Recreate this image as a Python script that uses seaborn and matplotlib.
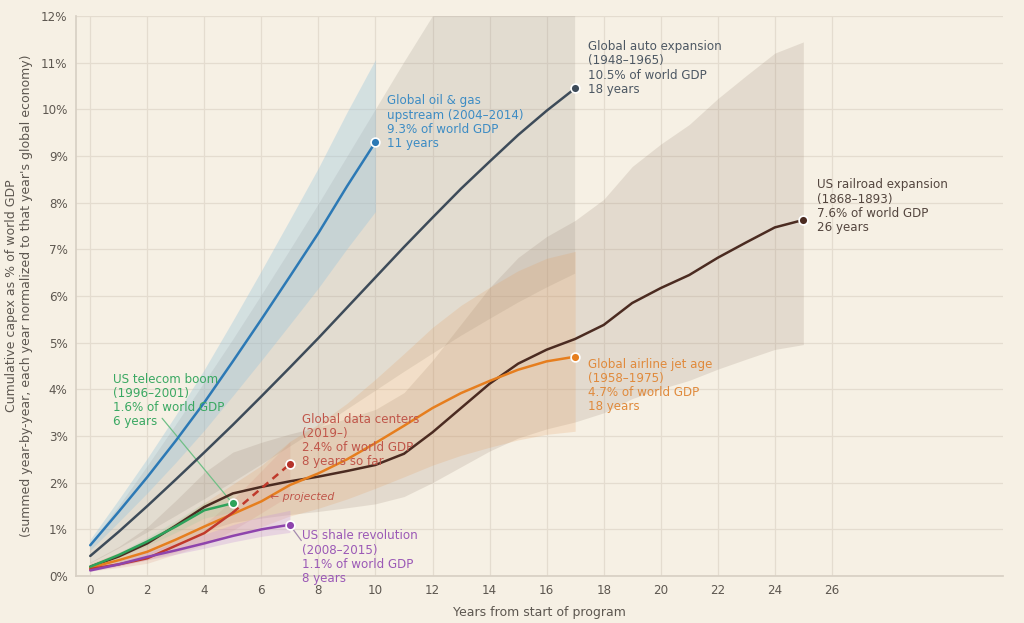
import numpy as np
import pandas as pd
import seaborn as sns
import matplotlib.pyplot as plt
from matplotlib.ticker import FuncFormatter

# cumulative capex, % of world GDP, by year of program
oil_gas = [0.66, 1.38, 2.12, 2.9, 3.72, 4.6, 5.5, 6.42, 7.35, 8.35, 9.3]
auto = [0.43, 0.95, 1.5, 2.07, 2.65, 3.24, 3.85, 4.47, 5.1, 5.75, 6.4, 7.05,
        7.68, 8.3, 8.88, 9.45, 9.97, 10.45]
railroad = [0.2, 0.42, 0.7, 1.08, 1.48, 1.77, 1.91, 2.03, 2.13, 2.25, 2.38,
            2.62, 3.08, 3.6, 4.12, 4.55, 4.85, 5.08, 5.38, 5.85, 6.17, 6.45,
            6.82, 7.15, 7.47, 7.63]
airline = [0.18, 0.34, 0.52, 0.78, 1.06, 1.33, 1.6, 1.95, 2.2, 2.5, 2.85,
           3.22, 3.6, 3.92, 4.18, 4.42, 4.6, 4.7]
data_centers = [0.15, 0.25, 0.38, 0.65, 0.92, 1.36]
data_centers_proj = [1.36, 1.88, 2.4]
telecom = [0.2, 0.45, 0.74, 1.06, 1.41, 1.56]
shale = [0.12, 0.25, 0.41, 0.55, 0.7, 0.86, 1.0, 1.1]

# uncertainty band, low / high multiple of the central line
band_oil = (0.84, 1.19)
band_auto = (0.62, 1.56)
band_rail = (0.65, 1.5)
band_airline = (0.66, 1.48)
band_dc = (0.72, 1.2)
band_telecom = (0.88, 1.12)
band_shale = (0.85, 1.28)

labels = {
    "oil": "Global oil & gas\nupstream (2004\u20132014)\n9.3% of world GDP\n11 years",
    "auto": "Global auto expansion\n(1948\u20131965)\n10.5% of world GDP\n18 years",
    "rail": "US railroad expansion\n(1868\u20131893)\n7.6% of world GDP\n26 years",
    "airline": "Global airline jet age\n(1958\u20131975)\n4.7% of world GDP\n18 years",
    "dc": "Global data centers\n(2019\u2013)\n2.4% of world GDP\n8 years so far",
    "telecom": "US telecom boom\n(1996\u20132001)\n1.6% of world GDP\n6 years",
    "shale": "US shale revolution\n(2008\u20132015)\n1.1% of world GDP\n8 years",
}

fond = "#f6f0e4"
sns.set_theme(style="whitegrid", rc={
    "axes.facecolor": fond, "figure.facecolor": fond,
    "grid.color": "#e4dccf", "grid.linewidth": 0.9,
    "axes.edgecolor": "#d8d0c4",
})
plt.rcParams['font.family'] = ['DejaVu Sans']

fig = plt.figure(figsize=(10.24, 6.23), dpi=100)
ax = fig.add_axes([0.0742, 0.0754, 0.9053, 0.8989])


def tracer(valeurs, bande, c_ligne, c_bande, a_bande, x0=0, ls="-", z=3):
    xs = np.arange(x0, x0 + len(valeurs))
    v = np.array(valeurs)
    if bande is not None:
        ax.fill_between(xs, v * bande[0], v * bande[1], color=c_bande,
                        alpha=a_bande, linewidth=0, zorder=1)
    sns.lineplot(x=xs, y=v, color=c_ligne, linewidth=1.8, linestyle=ls,
                 ax=ax, zorder=z)
    return xs[-1], v[-1]


def point_final(x, y, c):
    sns.scatterplot(x=[x], y=[y], color=c, s=40, edgecolor="white",
                    linewidth=1.2, ax=ax, zorder=6)


# bands + lines
fin_auto = tracer(auto, band_auto, "#3d4b59", "#9d978c", 0.22)
fin_rail = tracer(railroad, band_rail, "#4b2b21", "#9a8676", 0.2)
fin_air = tracer(airline, band_airline, "#e67e1e", "#e59a58", 0.2)
fin_oil = tracer(oil_gas, band_oil, "#2c79b5", "#9cc6dc", 0.38)
tracer(data_centers, None, "#c0392b", None, 0)
dc_tout = np.array(data_centers + data_centers_proj[1:])
ax.fill_between(np.arange(0, len(dc_tout)), dc_tout * band_dc[0], dc_tout * band_dc[1],
                color="#d58a75", alpha=0.18, linewidth=0, zorder=1)
fin_dc = tracer(data_centers_proj, None, "#c0392b", None, 0, x0=5, ls=(0, (3, 2.2)))
fin_tel = tracer(telecom, band_telecom, "#2ea35b", "#86c79a", 0.18, z=4)
fin_sh = tracer(shale, band_shale, "#8e44ad", "#c796d8", 0.3, z=4)

point_final(*fin_oil, "#2c79b5")
point_final(*fin_auto, "#3d4b59")
point_final(*fin_rail, "#4b2b21")
point_final(*fin_air, "#e67e1e")
point_final(*fin_dc, "#b5322a")
point_final(*fin_tel, "#2ea35b")
point_final(*fin_sh, "#8e44ad")

# labels
fs = 8.6
kw = dict(fontsize=fs, va="top", linespacing=1.12)
ax.text(10.42, 10.32, labels["oil"], color="#3d8cc4", **kw)
ax.text(17.44, 11.48, labels["auto"], color="#4d5863", **kw)
ax.text(25.47, 8.52, labels["rail"], color="#54463f", **kw)
ax.text(17.44, 4.68, labels["airline"], color="#e08a3c", **kw)
ax.text(7.44, 3.5, labels["dc"], color="#c0564a", **kw)
ax.text(0.81, 4.36, labels["telecom"], color="#3aa862", **kw)
ax.text(7.44, 1.0, labels["shale"], color="#9b59b6", **kw)
ax.text(6.3, 1.7, "\u2190 projected", color="#c0564a", fontsize=7.8,
        style="italic", va="center")

# leader lines
ax.plot([2.52, 4.93], [3.38, 1.6], color="#6fbf86", linewidth=0.9, zorder=2)
ax.plot([7.05, 7.4], [1.05, 0.76], color="#a58bb0", linewidth=0.9, zorder=2)

ax.set_xlim(-0.5, 32)
ax.set_ylim(0, 12)
ax.set_xticks(range(0, 27, 2))
ax.set_yticks(range(0, 13))
ax.yaxis.set_major_formatter(FuncFormatter(lambda v, p: f"{v:.0f}%"))
ax.tick_params(axis="both", labelsize=8.6, labelcolor="#5d5750", color="#8a847c",
               length=3, width=0.8, pad=3)
for s in ["top", "right"]:
    ax.spines[s].set_visible(False)
ax.set_xlabel("Years from start of program", fontsize=9, color="#5d5750", labelpad=6)
ax.set_ylabel("Cumulative capex as % of world GDP\n(summed year-by-year, each year normalized to that year's global economy)",
              fontsize=9, color="#5d5750", labelpad=6)

fig.savefig("out.png", dpi=100, facecolor=fond)
